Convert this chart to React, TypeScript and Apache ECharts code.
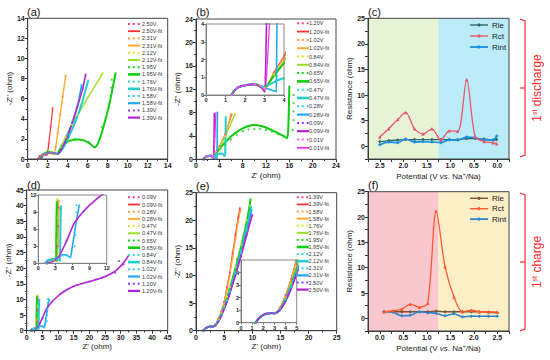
import React, { useEffect, useRef } from "react";
import * as echarts from "echarts";

const FONT = "Liberation Sans";

// ---------- (a) 1st discharge, 2.50 V – 1.39 V ----------
const A_NAMES = ["2.50V", "2.31V", "2.12V", "1.95V", "1.76V", "1.58V", "1.39V"];
const A_250 = [[1.0, 0], [1.2, 0.3], [1.5, 0.45], [1.8, 0.4], [1.95, 0.45], [2.1, 1.5], [2.3, 3.2], [2.5, 5.05]];
const A_231 = [[1.2, 0], [1.5, 0.4], [1.9, 0.6], [2.3, 0.55], [2.6, 0.5], [2.8, 1.2], [3.0, 2.6], [3.25, 4.4], [3.5, 6.2], [3.8, 8.3]];
const A_212 = [[1.3, 0], [1.6, 0.45], [2.0, 0.6], [2.5, 0.6], [2.9, 0.5], [3.3, 1.2], [3.8, 2.2], [4.4, 3.4], [5.0, 4.4], [5.6, 5.4], [6.3, 6.6], [7.0, 7.7], [7.5, 8.55]];
const A_195 = [[1.2, 0], [1.5, 0.45], [2.0, 0.7], [2.5, 0.65], [2.9, 0.5], [3.2, 0.9], [3.7, 1.5], [4.3, 1.85], [5.0, 1.95], [5.6, 1.85], [6.2, 1.55], [6.7, 1.15], [7.0, 1.5], [7.4, 2.6], [7.8, 4.0], [8.2, 5.6], [8.5, 7.1], [8.8, 8.6]];
const A_195_DOTS = [[1.3, 0.2], [1.8, 0.6], [2.4, 0.6], [3.0, 0.5], [3.4, 1.3], [3.9, 1.9], [4.7, 2.0], [6.1, 1.7], [6.7, 1.2], [7.4, 3.2], [7.76, 3.9], [8.1, 5.5], [8.3, 6.3], [8.35, 7.1], [8.4, 7.9]];
const A_176 = [[1.3, 0], [1.6, 0.45], [2.0, 0.6], [2.5, 0.6], [3.0, 0.5], [3.6, 1.2], [4.2, 2.4], [4.8, 3.8], [5.4, 5.5], [6.05, 7.8]];
const A_158 = [[1.3, 0], [1.6, 0.45], [2.0, 0.6], [2.5, 0.6], [3.0, 0.5], [3.5, 1.2], [4.0, 2.4], [4.5, 3.8], [5.0, 5.4], [5.4, 7.4]];
const A_139 = [[1.3, 0], [1.6, 0.45], [2.0, 0.6], [2.5, 0.6], [3.0, 0.5], [3.5, 1.2], [4.0, 2.3], [4.5, 3.7], [5.0, 5.3], [5.5, 7.0], [5.8, 8.4]];

// ---------- (b) 1st discharge, 1.20 V – 0.01 V ----------
const B_NAMES = ["1.20V", "1.02V", "0.84V", "0.65V", "0.47V", "0.28V", "0.09V", "0.01V"];
const B_120 = [[1.3, 0], [1.6, 0.4], [2.0, 0.55], [2.5, 0.6], [2.8, 0.5], [3.0, 0.4], [3.5, 1.3], [4.0, 2.2], [5.0, 4.3], [6.1, 7.6]];
const B_102 = [[1.3, 0], [1.6, 0.4], [2.0, 0.55], [2.5, 0.6], [2.8, 0.5], [3.0, 0.4], [3.5, 1.25], [4.0, 2.1], [5.0, 4.2], [6.0, 7.7]];
const B_084 = [[1.3, 0], [1.6, 0.4], [2.0, 0.55], [2.5, 0.6], [2.8, 0.5], [3.0, 0.4], [3.5, 1.15], [4.0, 1.9], [5.0, 3.9], [6.7, 7.8]];
const B_065 = [[1.3, 0], [1.6, 0.4], [2.0, 0.55], [2.5, 0.6], [2.8, 0.5], [3.0, 0.45], [3.5, 1.1], [4.0, 1.8], [5.0, 2.9], [6.0, 3.9], [7.0, 4.7], [8.0, 5.3], [9.0, 5.7], [10.0, 5.85], [11.0, 5.75], [12.0, 5.45], [13.0, 5.0], [14.0, 4.5], [15.0, 4.0], [15.6, 3.6], [15.8, 5.0], [15.9, 8.0], [16.0, 12.6]];
const B_065_DOTS = [[1.4, 0.2], [2.0, 0.5], [2.6, 0.6], [3.1, 0.5], [3.6, 1.1], [4.2, 1.8], [5.0, 2.5], [6.0, 3.4], [7.0, 4.2], [8.0, 4.8], [9.0, 5.1], [10.0, 5.2], [11.0, 5.2], [12.0, 5.0], [13.0, 4.7], [14.0, 4.3], [15.0, 3.9], [16.6, 5.0], [16.7, 6.7], [16.7, 8.2], [16.7, 9.6], [16.75, 11.0]];
const B_047 = [[1.3, 0], [1.6, 0.4], [2.0, 0.55], [2.5, 0.6], [2.9, 0.45], [3.2, 0.55], [3.6, 0.8], [4.0, 0.95], [4.5, 0.95], [4.9, 0.6], [5.0, 0.9], [5.05, 3.0], [5.1, 7.2]];
const B_028 = [[1.3, 0], [1.6, 0.4], [2.0, 0.55], [2.5, 0.6], [2.9, 0.45], [3.3, 0.3], [3.6, 0.2], [3.62, 2.0], [3.65, 5.0], [3.68, 8.0]];
const B_009 = [[1.3, 0], [1.6, 0.4], [2.0, 0.55], [2.5, 0.6], [2.8, 0.45], [3.0, 0.2], [3.05, 1.0], [3.1, 4.0], [3.15, 7.8]];
const B_001 = [[1.3, 0], [1.6, 0.4], [2.0, 0.55], [2.5, 0.6], [2.8, 0.5], [3.0, 0.3], [3.1, 1.0], [3.25, 4.0], [3.4, 7.9]];

// ---------- (c) resistances, 1st discharge ----------
const C_POT = [2.5, 2.31, 2.12, 1.95, 1.76, 1.58, 1.39, 1.2, 1.02, 0.84, 0.65, 0.47, 0.28, 0.09, 0.01];
const C_RLE = [0.9, 1.1, 1.2, 1.3, 1.3, 1.3, 1.3, 1.3, 1.3, 1.3, 1.5, 1.5, 1.4, 1.2, 1.3];
const C_RCT = [1.8, 3.4, 5.2, 6.6, 3.4, 2.4, 3.4, 1.2, 3.0, 2.9, 13.0, 1.9, 0.9, 0.7, 0.5];
const C_RINT = [0.3, 0.8, 0.7, 1.4, 0.8, 0.9, 0.8, 0.7, 1.2, 1.2, 1.8, 1.7, 1.2, 1.2, 2.0];
const C_ZONES = [[2.75, 1.25], [1.25, -0.25]];

// ---------- (d) 1st charge, 0.09 V – 1.20 V ----------
const D_NAMES = ["0.09V", "0.28V", "0.47V", "0.65V", "0.84V", "1.02V", "1.20V"];
const D_009 = [[1.5, 0], [2.0, 0.5], [2.7, 0.7], [3.3, 0.5], [3.4, 3.0], [3.5, 6.5], [3.6, 9.8]];
const D_028 = [[1.5, 0], [2.0, 0.5], [2.7, 0.7], [3.3, 0.5], [3.4, 3.5], [3.5, 7.5], [3.6, 11.0]];
const D_047 = [[1.5, 0], [2.0, 0.5], [2.7, 0.7], [3.2, 0.5], [3.25, 4.0], [3.3, 8.0], [3.35, 11.3]];
const D_065 = [[1.5, 0], [2.0, 0.5], [2.7, 0.7], [3.1, 0.5], [3.15, 4.0], [3.2, 8.0], [3.25, 10.8]];
const D_084 = [[1.5, 0], [2.0, 0.5], [2.7, 0.7], [3.5, 0.6], [3.8, 0.5], [3.85, 4.0], [3.9, 7.5], [4.0, 10.0]];
const D_102 = [[1.2, 0], [1.6, 0.5], [2.3, 0.7], [3.0, 0.8], [3.7, 1.2], [4.4, 1.5], [5.0, 1.4], [5.6, 1.0], [5.9, 2.5], [6.3, 5.0], [6.7, 7.5], [7.2, 10.3]];
const D_102_DOTS = [[1.3, 0.2], [2.0, 0.6], [3.0, 0.8], [4.0, 1.4], [5.0, 1.4], [5.6, 1.1], [6.4, 3.0], [6.5, 5.0], [6.6, 7.0], [6.7, 9.0], [6.75, 10.2]];
const D_120 = [[1.5, 0], [2.5, 0.3], [3.5, 1.0], [5.0, 4.0], [6.3, 7.0], [8.0, 9.2], [10.0, 11.1], [12.0, 12.6], [15.0, 14.2], [18.0, 15.2], [21.0, 16.0], [24.0, 16.9], [27.0, 18.3], [29.0, 19.7], [31.0, 21.8], [32.5, 24.0]];
const D_120_DOTS = [[1.6, 0.1], [3.0, 0.7], [5.0, 4.0], [8.0, 9.2], [12.0, 12.6], [16.0, 14.6], [20.0, 15.7], [24.0, 16.9], [28.2, 18.5], [29.4, 22.3], [30.9, 21.2]];

// ---------- (e) 1st charge, 1.39 V – 2.50 V ----------
const E_NAMES = ["1.39V", "1.58V", "1.76V", "1.95V", "2.12V", "2.31V", "2.50V"];
const E_139 = [[1.3, 0], [1.8, 0.5], [2.5, 0.75], [3.0, 0.75], [3.5, 1.2], [4.0, 2.2], [4.5, 3.5], [5.0, 5.2], [5.5, 7.9], [6.0, 10.5], [6.5, 14.0], [7.0, 17.3], [7.5, 20.5], [7.8, 22.2]];
const E_158 = [[1.3, 0], [1.8, 0.5], [2.5, 0.75], [3.0, 0.75], [3.5, 1.15], [4.0, 2.1], [4.5, 3.4], [5.0, 5.0], [5.5, 7.4], [6.0, 10.0], [6.5, 13.3], [7.0, 16.6], [7.5, 19.8], [7.9, 21.8]];
const E_176 = [[1.3, 0], [1.8, 0.5], [2.5, 0.75], [3.0, 0.75], [3.5, 1.1], [4.0, 1.95], [4.5, 3.1], [5.0, 4.5], [5.5, 6.1], [6.0, 7.9], [7.0, 11.6], [8.0, 15.6], [9.0, 20.0], [9.5, 22.6]];
const E_195 = [[1.3, 0], [1.8, 0.5], [2.5, 0.75], [3.0, 0.75], [3.5, 1.1], [4.0, 1.9], [4.5, 3.0], [5.0, 4.3], [5.5, 5.8], [6.0, 7.5], [7.0, 11.1], [8.0, 15.0], [9.0, 19.4], [9.7, 23.8]];
const E_212 = [[1.3, 0], [1.8, 0.5], [2.5, 0.75], [3.0, 0.75], [3.5, 1.05], [4.0, 1.8], [4.5, 2.9], [5.0, 4.1], [5.5, 5.5], [6.0, 7.1], [7.0, 10.6], [8.0, 14.4], [9.0, 18.5], [9.8, 22.5]];
const E_231 = [[1.3, 0], [1.8, 0.5], [2.5, 0.75], [3.0, 0.75], [3.5, 1.0], [4.0, 1.75], [4.5, 2.8], [5.0, 4.0], [5.5, 5.35], [6.0, 6.9], [7.0, 10.3], [8.0, 14.0], [9.0, 18.0], [9.9, 21.9]];
const E_250 = [[1.3, 0], [1.8, 0.5], [2.5, 0.75], [3.0, 0.75], [3.5, 1.0], [4.0, 1.7], [4.5, 2.7], [5.0, 3.9], [5.5, 5.2], [6.0, 6.7], [7.0, 10.0], [8.0, 13.5], [9.0, 17.3], [10.0, 21.0]];

// ---------- (f) resistances, 1st charge ----------
const F_POT = [0.09, 0.28, 0.47, 0.65, 0.84, 1.02, 1.2, 1.39, 1.58, 1.76, 1.95, 2.12, 2.31, 2.5];
const F_RLE = [1.3, 1.3, 1.3, 1.3, 1.3, 1.3, 1.4, 1.3, 1.3, 1.3, 1.3, 1.3, 1.2, 1.1];
const F_RCT = [1.3, 1.5, 1.8, 2.8, 2.2, 3.0, 21.2, 10.2, 4.2, 1.3, 1.6, 1.3, 1.3, 1.2];
const F_RINT = [1.3, 1.2, 0.5, 0.6, 1.3, 1.1, 1.0, 0.5, 0.9, 0.3, 0.4, 0.4, 0.4, 0.4];
const F_ZONES = [[-0.25, 1.25], [1.25, 2.75]];

const R_NAMES = ["Rle", "Rct", "Rint"];

// ---------- styles ----------
const DOT_COLORS = ["#ff3d8b", "#ff9a3c", "#e2e22a", "#1fcf2a", "#2fd8c8", "#2fc8f0", "#8a3cf0", "#f060f0"];
const FIT_COLORS = ["#ff3030", "#ffab30", "#9ade28", "#10cc10", "#22cccc", "#22a8ee", "#b422d0", "#ee30ee"];
const FIT_W = [1.2, 1.4, 1.4, 2, 2, 1.6, 1.6, 1.2];
const C_COLORS = ["#2f6868", "#e8586a", "#1a8ee6"];
const F_COLORS = ["#7a5632", "#ff5a30", "#2f84cc"];
const C_ZONE_COLORS = ["#e6f3d4", "#baebf7"];
const F_ZONE_COLORS = ["#f9c7cd", "#fcefc8"];
const RED = "#ff2a2a";

// ---------- layout ----------
const G: Record<string, { left: number; top: number; width: number; height: number }> = {
  a: { left: 27.7, top: 18.3, width: 140, height: 140.7 },
  b: { left: 196, top: 19, width: 140, height: 140.3 },
  bi: { left: 206, top: 24, width: 78, height: 71 },
  c: { left: 368, top: 18.3, width: 141, height: 140.7 },
  d: { left: 26.7, top: 190, width: 141, height: 140.7 },
  di: { left: 38.3, top: 195, width: 68.4, height: 68.3 },
  e: { left: 196, top: 192.7, width: 140.7, height: 138 },
  ei: { left: 241, top: 260, width: 55.7, height: 62.7 },
  f: { left: 368, top: 191.7, width: 141, height: 139.3 },
};
const GRID_ORDER = ["a", "b", "bi", "c", "d", "di", "e", "ei", "f"];

function axis(gi: number, min: number, max: number, interval: number, extra: any = {}) {
  const small = extra.small;
  return {
    type: "value",
    gridIndex: gi,
    min,
    max,
    interval,
    inverse: !!extra.inverse,
    axisLine: { show: true, onZero: false, lineStyle: { color: small ? "#777" : "#333", width: 1 } },
    axisTick: { show: true, length: small ? 2 : 3, lineStyle: { color: small ? "#777" : "#333" } },
    minorTick: { show: extra.minor !== false, splitNumber: 2, length: small ? 1 : 1.8, lineStyle: { color: "#333" } },
    splitLine: { show: false },
    axisLabel: {
      fontFamily: FONT,
      fontSize: small ? 5.5 : 7,
      fontWeight: "bold",
      color: "#222",
      margin: small ? 2 : 3,
      formatter: extra.formatter,
    },
    name: extra.name,
    nameLocation: "middle",
    nameGap: extra.nameGap,
    nameTextStyle: Object.assign({ fontFamily: FONT, fontSize: 8, color: "#222" }, extra.nameStyle || {}),
  };
}

const potName = "{n|Potential (V }{i|vs.}{n| Na}{s|+}{n|/Na)}";
const potRich = {
  rich: {
    n: { fontFamily: FONT, fontSize: 8, color: "#222", lineHeight: 10 },
    i: { fontFamily: FONT, fontSize: 8, fontStyle: "italic", color: "#222", lineHeight: 10 },
    s: { fontFamily: FONT, fontSize: 5.5, color: "#222", verticalAlign: "top", lineHeight: 10 },
  },
};
const halfFmt = (v: number) => {
  const k = Math.round(v * 2);
  return Math.abs(v * 2 - k) < 1e-6 && v >= -1e-6 ? (k / 2).toFixed(1) : "";
};
const fiveFmt = (v: number) => {
  const k = Math.round(v);
  return Math.abs(v - k) < 1e-6 && k >= 0 && k % 5 === 0 ? String(k) : "";
};

function nyq(names: string[], fits: number[][][], dots: number[][][], xi: number, yi: number) {
  const out: any[] = [];
  names.forEach((n, i) => {
    out.push({
      type: "line",
      name: n + "-fit",
      xAxisIndex: xi,
      yAxisIndex: yi,
      data: fits[i],
      symbol: "none",
      smooth: 0.25,
      lineStyle: { color: FIT_COLORS[i], width: FIT_W[i] },
      z: 2,
      clip: true,
    });
    out.push({
      type: "scatter",
      name: n,
      xAxisIndex: xi,
      yAxisIndex: yi,
      data: dots[i],
      symbol: "rect",
      symbolSize: 2,
      itemStyle: { color: DOT_COLORS[i] },
      z: 3,
      clip: true,
    });
  });
  return out;
}

function resSeries(pot: number[], vals: number[][], colors: string[], xi: number, zones: number[][], zoneColors: string[]) {
  return R_NAMES.map((n, k) => ({
    type: "line",
    name: n,
    xAxisIndex: xi,
    yAxisIndex: xi,
    data: pot.map((p, j) => [p, vals[k][j]]),
    smooth: 0.3,
    symbol: k === 1 ? "triangle" : "diamond",
    symbolSize: 3.5,
    lineStyle: { color: colors[k], width: k === 2 ? 1.6 : 1.3 },
    itemStyle: { color: colors[k] },
    z: 3 + (k === 2 ? 0 : k),
    markArea:
      k === 0
        ? {
            silent: true,
            z: 0,
            data: zones.map((zn, zi) => [
              { xAxis: zn[0], itemStyle: { color: zoneColors[zi] } },
              { xAxis: zn[1] },
            ]),
          }
        : undefined,
  }));
}

function nyqLegend(x0: number, y0: number, step: number, names: string[], textX: number) {
  const els: any[] = [];
  let row = 0;
  names.forEach((n, i) => {
    const yd = y0 + step * row;
    for (let k = 0; k < 3; k++) {
      els.push({ type: "rect", shape: { x: x0 + k * 4.8, y: yd - 1, width: 2, height: 2 }, style: { fill: DOT_COLORS[i] }, z: 50 });
    }
    els.push({ type: "text", x: textX, y: yd, style: { text: n, font: `5.5px "${FONT}"`, fill: "#333", verticalAlign: "middle" }, z: 50 });
    row++;
    const yf = y0 + step * row;
    const w = FIT_W[i] + 0.6;
    els.push({ type: "rect", shape: { x: x0, y: yf - w / 2, width: 12, height: w }, style: { fill: FIT_COLORS[i] }, z: 50 });
    els.push({ type: "text", x: textX, y: yf, style: { text: n + "-fit", font: `5.5px "${FONT}"`, fill: "#333", verticalAlign: "middle" }, z: 50 });
    row++;
  });
  return els;
}

function resLegend(x0: number, y0: number, step: number, colors: string[]) {
  const els: any[] = [];
  R_NAMES.forEach((n, k) => {
    const y = y0 + step * k;
    els.push({ type: "line", shape: { x1: x0, y1: y, x2: x0 + 18, y2: y }, style: { stroke: colors[k], lineWidth: k === 2 ? 1.8 : 1.4 }, z: 50 });
    els.push({ type: "circle", shape: { cx: x0 + 9, cy: y, r: 1.6 }, style: { fill: colors[k] }, z: 51 });
    els.push({ type: "text", x: x0 + 22, y, style: { text: n, font: `8px "${FONT}"`, fill: "#222", verticalAlign: "middle" }, z: 50 });
  });
  return els;
}

function bracket(x: number, y1: number, y2: number, label: string) {
  const ym = (y1 + y2) / 2;
  return [
    { type: "polyline", shape: { points: [[x - 5, y1], [x, y1 + 2], [x, y2 - 2], [x - 5, y2]] }, style: { stroke: RED, lineWidth: 1.2, fill: null }, z: 50 },
    { type: "line", shape: { x1: x, y1: ym, x2: x - 5, y2: ym }, style: { stroke: RED, lineWidth: 1.2 }, z: 50 },
    {
      type: "group",
      x: x + 12,
      y: ym,
      rotation: Math.PI / 2,
      z: 50,
      children: [
        {
          type: "text",
          x: 0,
          y: 0,
          style: {
            text: `{a|1}{b|st}{a| ${label}}`,
            align: "center",
            verticalAlign: "middle",
            fill: RED,
            font: `11px "${FONT}"`,
            rich: {
              a: { fontFamily: FONT, fontSize: 12, fill: RED, lineHeight: 13 },
              b: { fontFamily: FONT, fontSize: 7, fill: RED, verticalAlign: "top", lineHeight: 13 },
            },
          },
          z: 50,
        },
      ],
    },
  ];
}

function frame(key: string, color: string) {
  const g = G[key];
  return { type: "rect", shape: { x: g.left, y: g.top, width: g.width, height: g.height }, style: { fill: null, stroke: color, lineWidth: 1 }, z: 40, silent: true };
}

function panelLabel(text: string, x: number, y: number) {
  return { type: "text", x, y, style: { text, font: `11px "${FONT}"`, fill: "#111", verticalAlign: "middle" }, z: 50 };
}

export default function App() {
  const ref = useRef<HTMLDivElement>(null);
  useEffect(() => {
    if (!ref.current) return;
    const chart = echarts.init(ref.current, null, { renderer: "svg" });

    const grids = GRID_ORDER.map((k) => ({
      left: G[k].left,
      top: G[k].top,
      width: G[k].width,
      height: G[k].height,
      show: k.length === 2,
      backgroundColor: "#fff",
      borderWidth: 0,
    }));

    const zY = "-Z'' (ohm)";
    const zX = "Z' (ohm)";
    const xAxes = [
      axis(0, 0, 14, 2),
      axis(1, 0, 24, 4, { name: zX, nameGap: 12 }),
      axis(2, 0, 4, 1, { small: true, minor: false }),
      axis(3, -0.25, 2.75, 0.25, { inverse: true, minor: false, formatter: halfFmt, name: potName, nameGap: 12, nameStyle: potRich }),
      axis(4, 0, 45, 5, { name: zX, nameGap: 12 }),
      axis(5, 0, 12, 3, { small: true, minor: false }),
      axis(6, 0, 25, 5, { name: zX, nameGap: 12 }),
      axis(7, 0, 5, 1, { small: true, minor: false }),
      axis(8, -0.25, 2.75, 0.25, { minor: false, formatter: halfFmt, name: potName, nameGap: 12, nameStyle: potRich }),
    ];
    const yAxes = [
      axis(0, 0, 14, 2, { name: zY, nameGap: 12 }),
      axis(1, 0, 24, 4, { name: zY, nameGap: 9 }),
      axis(2, 0, 4, 1, { small: true, minor: false }),
      axis(3, -2.5, 25, 2.5, { minor: false, formatter: fiveFmt, name: "Resistance (ohm)", nameGap: 11 }),
      axis(4, 0, 45, 5, { name: zY, nameGap: 12 }),
      axis(5, 0, 12, 3, { small: true, minor: false }),
      axis(6, 0, 25, 5, { name: zY, nameGap: 9 }),
      axis(7, 0, 5, 1, { small: true, minor: false }),
      axis(8, -2.5, 25, 2.5, { minor: false, formatter: fiveFmt, name: "Resistance (ohm)", nameGap: 11 }),
    ];

    const aFits = [A_250, A_231, A_212, A_195, A_176, A_158, A_139];
    const aDots = [A_250, A_231, A_212, A_195_DOTS, A_176, A_158, A_139];
    const bFits = [B_120, B_102, B_084, B_065, B_047, B_028, B_009, B_001];
    const bDots = [B_120, B_102, B_084, B_065_DOTS, B_047, B_028, B_009, B_001];
    const dFits = [D_009, D_028, D_047, D_065, D_084, D_102, D_120];
    const dDots = [D_009, D_028, D_047, D_065, D_084, D_102_DOTS, D_120_DOTS];
    const eFits = [E_139, E_158, E_176, E_195, E_212, E_231, E_250];

    const series = [
      ...nyq(A_NAMES, aFits, aDots, 0, 0),
      ...nyq(B_NAMES, bFits, bDots, 1, 1),
      ...nyq(B_NAMES, bFits, bDots, 2, 2),
      ...resSeries(C_POT, [C_RLE, C_RCT, C_RINT], C_COLORS, 3, C_ZONES, C_ZONE_COLORS),
      ...nyq(D_NAMES, dFits, dDots, 4, 4),
      ...nyq(D_NAMES, dFits, dDots, 5, 5),
      ...nyq(E_NAMES, eFits, eFits, 6, 6),
      ...nyq(E_NAMES, eFits, eFits, 7, 7),
      ...resSeries(F_POT, [F_RLE, F_RCT, F_RINT], F_COLORS, 8, F_ZONES, F_ZONE_COLORS),
    ];

    const graphic = [
      frame("a", "#444"),
      frame("b", "#444"),
      frame("bi", "#888"),
      frame("c", "#444"),
      frame("d", "#444"),
      frame("di", "#888"),
      frame("e", "#444"),
      frame("ei", "#888"),
      frame("f", "#444"),
      panelLabel("(a)", 27, 12),
      panelLabel("(b)", 196, 12),
      panelLabel("(c)", 368, 12),
      panelLabel("(d)", 27, 185),
      panelLabel("(e)", 196, 186),
      panelLabel("(f)", 368, 185),
      ...nyqLegend(128, 24, 7.2, A_NAMES, 142),
      ...nyqLegend(297, 23.3, 8.3, B_NAMES, 309),
      ...nyqLegend(128, 197.3, 7.2, D_NAMES, 142),
      ...nyqLegend(296.7, 197.3, 7.1, E_NAMES, 308.5),
      ...resLegend(470, 25, 11, C_COLORS),
      ...resLegend(470, 198.3, 10.4, F_COLORS),
      ...bracket(525, 19, 157, "discharge"),
      ...bracket(525, 193, 331, "charge"),
    ];

    chart.setOption({
      animation: false,
      backgroundColor: "#fff",
      grid: grids,
      xAxis: xAxes,
      yAxis: yAxes,
      series,
      graphic,
    });
    return () => chart.dispose();
  }, []);
  return <div ref={ref} style={{ position: "fixed", left: 0, top: 0, width: 550, height: 360 }} />;
}
